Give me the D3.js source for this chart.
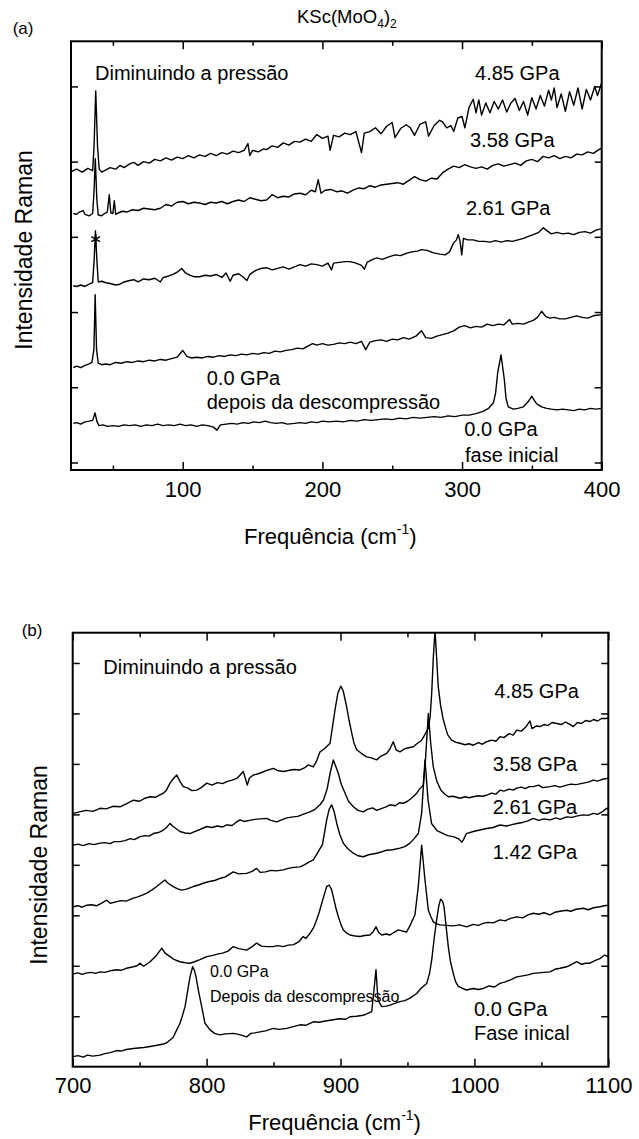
<!DOCTYPE html>
<html>
<head>
<meta charset="utf-8">
<script src="https://cdn.jsdelivr.net/npm/d3@7"></script>
<style>
  body { margin: 0; background: #fff; }
  svg { display: block; }
</style>
</head>
<body>
<svg id="chart" width="639" height="1139"></svg>
<script>

// ---- panel (a): low frequency region, [cm-1, intensity a.u.] ----
var a485 = [[20.5,3.87],[24,3.90],[28,3.86],[32,3.91],[35.5,3.88],[36.5,4.20],[37.7,4.94],[39,4.20],[40.2,3.90],[42,3.86],[45,3.89],[48,3.92],[52,3.90],[55,3.95],[58,3.92],[62,3.97],[65,3.99],[68,3.95],[72,4.00],[76,3.98],[80,4.03],[84,4.01],[88,4.05],[92,4.02],[96,4.06],[100,4.04],[104,4.08],[108,4.05],[112,4.09],[116,4.07],[120,4.11],[124,4.08],[128,4.12],[132,4.10],[136,4.14],[140,4.12],[144,4.15],[146.7,4.24],[148,4.08],[150,4.15],[154,4.13],[158,4.17],[160,4.16],[164,4.21],[168,4.19],[172,4.25],[176,4.22],[180,4.27],[184,4.26],[188,4.30],[192,4.27],[196,4.36],[200,4.31],[204,4.34],[205.5,4.15],[208,4.35],[212,4.33],[216,4.38],[220,4.36],[224,4.40],[228,4.12],[230,4.38],[234,4.40],[238,4.45],[242,4.37],[246,4.47],[250,4.52],[252,4.32],[256,4.44],[260,4.49],[263,4.45],[266,4.35],[270,4.50],[274,4.53],[276,4.34],[280,4.48],[284,4.55],[286,4.53],[289,4.45],[292,4.48],[294,4.40],[297,4.58],[300,4.60],[302,4.45],[305,4.72],[308,4.83],[310,4.65],[312,4.82],[314,4.62],[317,4.78],[320,4.65],[323,4.80],[326,4.70],[329,4.82],[332,4.66],[335,4.78],[338,4.84],[341,4.68],[344,4.80],[347,4.62],[350,4.85],[353,4.70],[356,4.88],[359,4.74],[362,4.95],[364,4.82],[366,4.98],[368,4.72],[371,4.90],[374,4.67],[377,4.93],[380,4.75],[383,4.98],[386,4.70],[389,4.96],[392,4.82],[395,5.00],[397,4.88],[400,5.05]];

var a358 = [[21.6,3.31],[24,3.30],[26,3.33],[28.6,3.35],[30,3.30],[33,3.28],[35.5,3.31],[36.5,3.60],[37.4,4.04],[38.5,3.50],[39.5,3.29],[42,3.28],[44,3.31],[46,3.33],[47.4,3.56],[48.5,3.32],[50,3.31],[51,3.48],[52,3.30],[54,3.32],[57,3.34],[60,3.33],[64,3.36],[68,3.35],[72,3.38],[76,3.37],[80,3.36],[84,3.38],[88,3.43],[92,3.41],[96,3.46],[100,3.47],[104,3.44],[108,3.46],[112,3.45],[116,3.43],[120,3.46],[124,3.45],[128,3.47],[132,3.44],[136,3.47],[140,3.49],[144,3.47],[148,3.52],[152,3.50],[156,3.48],[160,3.49],[164,3.56],[168,3.52],[172,3.54],[176,3.53],[180,3.57],[184,3.58],[188,3.56],[192,3.62],[195,3.60],[197,3.76],[199,3.58],[202,3.62],[206,3.63],[210,3.60],[214,3.61],[218,3.58],[222,3.62],[226,3.65],[230,3.64],[234,3.68],[238,3.66],[242,3.69],[246,3.70],[250,3.71],[254,3.72],[258,3.70],[262,3.75],[266,3.80],[270,3.76],[274,3.74],[278,3.78],[282,3.77],[286,3.85],[290,3.90],[294,3.94],[298,3.92],[302,3.96],[306,3.93],[310,3.91],[314,3.93],[318,3.90],[322,3.95],[326,3.97],[330,3.94],[334,3.96],[338,3.98],[342,3.95],[346,4.01],[350,4.03],[354,4.00],[358,4.07],[362,4.05],[366,4.08],[370,4.04],[374,4.07],[378,4.05],[382,4.10],[386,4.09],[390,4.13],[394,4.11],[398,4.16],[400,4.18]];

var a261 = [[21.6,2.35],[24,2.34],[27,2.36],[30,2.34],[33,2.37],[35.5,2.39],[36.6,2.70],[37.5,3.08],[38.5,2.70],[39.5,2.40],[42,2.41],[45,2.39],[48,2.38],[52,2.36],[55,2.37],[58,2.40],[62,2.42],[65,2.43],[68,2.40],[72,2.44],[76,2.43],[80,2.45],[84,2.40],[86,2.46],[90,2.48],[93,2.50],[96,2.53],[99.3,2.58],[102,2.52],[105,2.49],[108,2.47],[112,2.47],[116,2.49],[120,2.48],[124,2.50],[128,2.46],[131,2.52],[134,2.41],[136,2.49],[140,2.51],[143,2.47],[146,2.42],[148,2.50],[152,2.55],[156,2.58],[160,2.59],[164,2.56],[168,2.58],[172,2.60],[176,2.57],[180,2.60],[184,2.63],[188,2.61],[192,2.64],[196,2.63],[200,2.61],[204,2.65],[206.5,2.56],[208,2.65],[212,2.66],[216,2.67],[220,2.67],[224,2.65],[228,2.62],[230,2.57],[232,2.66],[236,2.70],[239,2.72],[243,2.70],[247,2.73],[252,2.76],[256,2.75],[260,2.78],[264,2.80],[268,2.81],[271,2.83],[275,2.82],[279,2.79],[284,2.77],[288,2.76],[291,2.80],[294,2.92],[296,2.96],[297.3,3.03],[298.5,2.95],[299.8,2.76],[301,2.98],[304,2.96],[308,2.96],[312,2.94],[316,2.94],[320,2.93],[324,2.95],[328,2.93],[332,2.95],[336,2.94],[340,2.96],[344,2.98],[348,3.01],[351,3.03],[355,3.06],[358.2,3.12],[361,3.08],[364,3.04],[368,3.06],[372,3.04],[376,3.05],[380,3.03],[384,3.06],[388,3.07],[392,3.05],[396,3.09],[400,3.11]];

var a000d = [[21.6,1.26],[24,1.28],[27,1.26],[30,1.29],[33,1.31],[35,1.33],[36.4,1.50],[37.3,2.23],[38.3,1.50],[39.5,1.32],[42,1.30],[45,1.31],[48,1.30],[52,1.33],[56,1.32],[60,1.34],[64,1.33],[68,1.35],[72,1.34],[76,1.36],[80,1.35],[84,1.37],[88,1.36],[92,1.38],[96,1.40],[100,1.49],[103,1.41],[106,1.39],[110,1.40],[114,1.39],[118,1.41],[122,1.40],[126,1.42],[130,1.41],[134,1.43],[138,1.42],[142,1.44],[146,1.43],[150,1.45],[154,1.44],[158,1.46],[162,1.45],[166,1.48],[170,1.47],[174,1.49],[178,1.50],[182,1.52],[186,1.51],[190,1.55],[193,1.58],[196,1.56],[200,1.58],[204,1.56],[208,1.57],[212,1.59],[216,1.58],[220,1.60],[224,1.58],[228,1.61],[231,1.50],[234,1.60],[238,1.62],[242,1.63],[246,1.61],[250,1.64],[254,1.63],[258,1.66],[262,1.64],[267,1.68],[271,1.75],[274,1.66],[278,1.65],[282,1.68],[286,1.70],[290,1.72],[294,1.75],[298,1.80],[302,1.82],[306,1.79],[310,1.81],[314,1.80],[318,1.84],[322,1.82],[326,1.84],[330,1.83],[334,1.90],[336,1.84],[340,1.85],[344,1.84],[348,1.87],[351,1.89],[354,1.93],[357,2.01],[360,1.94],[363,1.92],[366,1.93],[370,1.91],[374,1.91],[378,1.93],[382,1.95],[386,1.93],[390,1.92],[394,1.95],[398,1.96],[400,1.97]];

var a000i = [[21.6,0.52],[24,0.53],[27,0.51],[30,0.54],[33,0.55],[35.5,0.56],[37.2,0.66],[38.5,0.55],[40,0.49],[43,0.50],[46,0.48],[50,0.49],[54,0.48],[58,0.50],[62,0.49],[66,0.50],[70,0.48],[74,0.50],[78,0.49],[82,0.51],[86,0.49],[90,0.50],[94,0.49],[98,0.51],[102,0.49],[106,0.50],[110,0.48],[114,0.50],[118,0.49],[122,0.47],[124.5,0.43],[127,0.50],[131,0.51],[135,0.52],[139,0.51],[143,0.53],[147,0.52],[151,0.54],[155,0.53],[159,0.55],[163,0.53],[167,0.52],[171,0.53],[175,0.51],[180,0.52],[184,0.53],[188,0.52],[192,0.54],[196,0.53],[200,0.55],[205,0.54],[210,0.55],[215,0.54],[220,0.56],[225,0.55],[230,0.57],[235,0.56],[240,0.57],[245,0.58],[250,0.57],[255,0.59],[260,0.58],[265,0.60],[270,0.59],[275,0.60],[280,0.61],[285,0.60],[290,0.62],[295,0.61],[300,0.63],[305,0.63],[310,0.65],[315,0.68],[319,0.72],[322.4,0.79],[324,0.92],[325.5,1.19],[327.9,1.43],[330.3,1.10],[331.5,0.85],[333.1,0.74],[336.7,0.71],[340,0.72],[343.9,0.74],[347,0.80],[349.9,0.88],[352,0.82],[353.5,0.78],[357,0.74],[360.6,0.72],[364,0.71],[368,0.70],[372,0.71],[376,0.70],[380,0.69],[384,0.71],[388,0.70],[392,0.72],[396,0.71],[400,0.72]];

// ---- panel (b): high frequency region ----
var b485 = [[700.4,5.02],[705,5.05],[710,5.08],[715,5.06],[720.4,5.12],[725,5.11],[730,5.16],[735.3,5.15],[740,5.21],[745.3,5.28],[750,5.26],[754,5.32],[757.8,5.35],[762,5.34],[767.7,5.42],[770,5.48],[772.7,5.62],[775,5.70],[777.7,5.78],[780,5.66],[782.6,5.55],[786,5.52],[789,5.47],[792.6,5.48],[796,5.53],[800.1,5.62],[804,5.58],[808,5.63],[812,5.61],[815,5.65],[819,5.68],[823,5.72],[827.4,5.85],[830.4,5.58],[832,5.72],[834.9,5.78],[838,5.80],[842,5.84],[846,5.88],[849.8,5.91],[853,5.87],[857.3,5.85],[861,5.87],[865,5.89],[869.8,5.88],[873,5.92],[876,5.98],[879.7,5.94],[882,6.05],[884.7,6.24],[888,6.30],[892.2,6.41],[895.9,7.07],[898,7.40],[900.2,7.54],[902,7.45],[904.6,7.13],[906.5,6.85],[908.4,6.61],[910,6.42],[912.1,6.28],[916,6.20],[919.6,6.14],[923,6.12],[927,6.08],[930,6.15],[934.5,6.21],[937,6.30],[939.4,6.44],[941.5,6.28],[944.4,6.24],[948,6.30],[951,6.32],[954.4,6.34],[957,6.40],[960.6,6.47],[963,6.58],[965.6,6.71],[967,6.95],[968.1,7.40],[969.3,8.10],[970.6,8.65],[971.8,8.10],[973,7.53],[974.8,7.15],[976.8,6.87],[980,6.58],[983,6.47],[986,6.43],[989.3,6.41],[993,6.38],[996,6.40],[999.2,6.37],[1003,6.42],[1006,6.39],[1009.2,6.44],[1013,6.47],[1016,6.45],[1019.1,6.54],[1022,6.52],[1026,6.60],[1029,6.57],[1031.6,6.67],[1035,6.65],[1038,6.72],[1041.5,6.85],[1043,6.70],[1046,6.75],[1049,6.74],[1052,6.78],[1055,6.76],[1058,6.82],[1061.5,6.80],[1065,6.78],[1068,6.83],[1071,6.79],[1073.9,6.74],[1077,6.82],[1080,6.80],[1083,6.86],[1086.3,6.84],[1089,6.88],[1092,6.85],[1095,6.90],[1098.8,6.90],[1100,6.92]];

var b358 = [[700.4,4.39],[704,4.41],[708,4.38],[712,4.42],[716,4.40],[720.4,4.43],[724,4.44],[728,4.42],[731,4.46],[735.3,4.46],[739,4.48],[743,4.52],[746,4.50],[750.3,4.56],[754,4.58],[757,4.57],[760.2,4.62],[764,4.64],[767.7,4.69],[770,4.74],[772.7,4.82],[775,4.76],[778,4.70],[780.1,4.66],[784,4.63],[787.6,4.62],[791,4.66],[795,4.70],[800.1,4.76],[804,4.74],[808,4.77],[812,4.75],[815,4.79],[819,4.78],[822,4.84],[824.9,4.89],[828,4.86],[832,4.88],[836,4.90],[840,4.91],[844.9,4.92],[848,4.88],[852.4,4.85],[856,4.89],[860,4.93],[864.7,4.95],[868,4.96],[872,5.00],[877.2,5.05],[881,5.10],[884.7,5.19],[887.2,5.28],[890,5.50],[892.2,5.81],[894.6,6.08],[896.5,5.95],[898.4,5.81],[900.5,5.60],[903.4,5.42],[906,5.26],[909.6,5.15],[913,5.08],[917,5.05],[920,5.10],[924,5.13],[927,5.08],[931,5.12],[934,5.15],[937,5.19],[941,5.17],[944,5.23],[946.9,5.22],[950,5.26],[953,5.32],[956.9,5.42],[959,5.50],[961.8,5.58],[963.5,6.10],[965.6,7.00],[967.4,6.40],[969.3,5.94],[972,5.65],[975,5.48],[978,5.40],[980.5,5.35],[984,5.36],[989.3,5.32],[993,5.35],[996,5.33],[999.2,5.35],[1003,5.37],[1006,5.36],[1009.2,5.38],[1013,5.42],[1016,5.40],[1019.1,5.48],[1022,5.46],[1026,5.50],[1029,5.48],[1031.6,5.52],[1035,5.54],[1038,5.51],[1041,5.55],[1044,5.55],[1048,5.58],[1051,5.53],[1056.5,5.55],[1060,5.57],[1064,5.54],[1068.9,5.58],[1072,5.60],[1076,5.59],[1081.3,5.62],[1085,5.64],[1088.8,5.68],[1092,5.66],[1095,5.69],[1098.8,5.71],[1100,5.72]];

var b261 = [[700.4,3.17],[704,3.19],[707,3.16],[710.5,3.20],[714,3.21],[718,3.19],[721,3.23],[725.4,3.30],[728,3.24],[732.9,3.27],[736,3.29],[740,3.28],[745.3,3.34],[748,3.36],[752,3.40],[755.3,3.44],[759,3.50],[762.7,3.57],[766,3.64],[768.9,3.70],[771,3.64],[775.1,3.57],[778,3.53],[781.4,3.50],[785,3.52],[790.1,3.57],[794,3.60],[798,3.64],[802,3.67],[806,3.69],[810,3.73],[814,3.76],[819.9,3.86],[824,3.82],[829.9,3.83],[834,3.87],[837.4,3.93],[840,3.85],[844,3.86],[848,3.89],[852,3.88],[857.3,3.90],[861,3.93],[865,3.95],[869.8,3.96],[873,4.00],[876,4.05],[879.7,4.10],[883.4,4.26],[886.5,4.40],[889.7,4.89],[891.5,5.10],[893.4,5.19],[895.3,5.05],[897.2,4.82],[899.5,4.60],[902.1,4.43],[905.5,4.32],[909.6,4.23],[913,4.18],[917,4.16],[921,4.20],[927,4.23],[931,4.26],[934.5,4.29],[939,4.30],[944.4,4.33],[948,4.36],[951.9,4.43],[955,4.52],[958.1,4.62],[960.6,5.02],[963.1,6.08],[965.4,5.28],[968,4.82],[972,4.68],[976.8,4.62],[980,4.58],[984.2,4.56],[988,4.52],[990.5,4.45],[991.7,4.49],[994,4.62],[999.2,4.66],[1004,4.69],[1009.2,4.72],[1014,4.74],[1019.1,4.79],[1024,4.77],[1031.6,4.82],[1036,4.84],[1040,4.87],[1044,4.92],[1048,4.88],[1052,4.91],[1056.5,4.89],[1061,4.93],[1064,4.90],[1068.9,4.95],[1073,4.94],[1077,4.97],[1081.3,4.99],[1085,4.98],[1088.8,5.02],[1092,5.00],[1096,5.06],[1098.8,5.12],[1100,5.10]];

var b142 = [[700.4,1.84],[704,1.86],[707,1.83],[710.5,1.86],[714,1.87],[717,1.85],[720.4,1.88],[724,1.87],[728,1.90],[732.9,1.92],[736,1.91],[740,1.95],[745.3,1.98],[748,2.00],[750.3,2.05],[753,1.99],[757.8,2.08],[762.7,2.21],[766.5,2.35],[769,2.25],[772.7,2.18],[776,2.12],[780.1,2.08],[784,2.06],[787.6,2.05],[791,2.08],[795,2.12],[800.1,2.18],[804,2.20],[808,2.23],[812,2.25],[816,2.29],[819.9,2.38],[824,2.34],[829.9,2.31],[834,2.38],[837.4,2.45],[841,2.39],[845,2.38],[849.8,2.38],[853,2.40],[857.3,2.38],[861,2.41],[865,2.42],[869,2.48],[872.2,2.58],[874,2.54],[877.2,2.64],[880,2.76],[882.2,2.91],[884,3.05],[886,3.24],[888,3.42],[889.7,3.57],[891.5,3.60],[893.2,3.52],[894.6,3.37],[896.5,3.15],[898.4,2.97],[900.3,2.82],[902.1,2.71],[905,2.64],[907.1,2.61],[911,2.59],[914.6,2.58],[918,2.60],[922,2.61],[924.5,2.68],[926.5,2.77],[928.5,2.66],[930.8,2.61],[934,2.63],[937,2.61],[940,2.66],[943.2,2.71],[946,2.69],[949.4,2.67],[952,2.80],[955.6,3.01],[958.1,3.57],[960.6,4.39],[963.1,3.70],[965.6,3.10],[967.5,2.97],[969.3,2.87],[972,2.83],[974.3,2.81],[979,2.80],[984.2,2.79],[989,2.81],[994.2,2.77],[999,2.82],[1003,2.80],[1006.6,2.84],[1010,2.86],[1014,2.85],[1019.1,2.91],[1023,2.89],[1027,2.94],[1031.6,2.97],[1036,2.95],[1040,3.01],[1044,3.04],[1048,3.02],[1052,3.05],[1056.5,3.01],[1060,3.06],[1064,3.08],[1068.9,3.10],[1072,3.08],[1076,3.12],[1081.3,3.14],[1085,3.11],[1089,3.15],[1093.7,3.17],[1097,3.19],[1100,3.20]];

var b000 = [[700.4,0.20],[704,0.22],[707.9,0.19],[711,0.23],[715,0.21],[720.4,0.23],[724,0.26],[728,0.28],[732.9,0.32],[736,0.31],[740,0.34],[745.3,0.36],[749,0.37],[753,0.38],[757.8,0.40],[762,0.42],[767.7,0.45],[770,0.47],[772.7,0.53],[775,0.58],[777.7,0.73],[780,0.85],[781.8,1.00],[783.9,1.19],[785.5,1.45],[787.6,1.78],[789.6,1.98],[791,1.90],[792.1,1.78],[794,1.50],[795.5,1.30],[798.8,0.86],[802.6,0.73],[806,0.66],[810,0.63],[814,0.65],[819.9,0.66],[824,0.64],[829.9,0.59],[833,0.66],[836,0.67],[839.9,0.69],[844,0.71],[849.8,0.76],[854,0.74],[859.8,0.76],[864,0.79],[869.8,0.83],[874,0.82],[879.7,0.89],[884,0.88],[889.7,0.91],[894.6,0.93],[899,0.95],[904,0.94],[907.1,0.99],[912,1.00],[917,1.02],[920,1.05],[923.3,1.09],[925,1.52],[926.5,1.92],[928,1.32],[930.8,1.19],[934,1.20],[937,1.22],[940,1.25],[944.4,1.29],[948,1.31],[951.9,1.36],[956.9,1.45],[960,1.55],[964.4,1.65],[966.5,1.85],[968.1,2.11],[970,2.55],[971.8,2.91],[973.5,3.20],[974.8,3.32],[976.2,3.28],[977.3,3.17],[979,2.75],[980.5,2.38],[982,2.10],[984.2,1.85],[986,1.68],[988,1.59],[992,1.54],[994.2,1.52],[999.2,1.55],[1003,1.53],[1006.6,1.55],[1011,1.60],[1015,1.58],[1019.1,1.65],[1023,1.68],[1027,1.72],[1031.6,1.78],[1036,1.80],[1040,1.82],[1044,1.85],[1048,1.86],[1052,1.87],[1056.5,1.88],[1060,1.93],[1064,1.95],[1068.9,1.98],[1072,2.02],[1076.4,2.08],[1080,2.03],[1083,2.05],[1086.3,2.05],[1090,2.10],[1093.7,2.14],[1097,2.21],[1100,2.18]];

// tick values
var xTicksA = [100, 200, 300, 400];
var xMinorA = [50, 150, 250, 350];
var yTicksA = [0, 1, 2, 3, 4, 5];
var xTicksB = [700, 800, 900, 1000, 1100];
var xMinorB = [750, 850, 950, 1050];
var yTicksB = [1, 2, 3, 4, 5, 6, 7, 8];

// labels, placed in data units: [text, x, y, small]
var notesA = [
    ["Diminuindo a pressão", 37.2, 5.08, false],
    ["4.85 GPa", 309.3, 5.08, false],
    ["3.58 GPa", 305.7, 4.20, false],
    ["2.61 GPa", 302.8, 3.29, false],
    ["0.0 GPa", 117.2, 1.03, false],
    ["depois da descompressão", 117.2, 0.71, false],
    ["0.0 GPa", 301.6, 0.35, false],
    ["fase inicial", 302.1, 0.01, false]
];
var notesB = [
    ["Diminuindo a pressão", 722.9, 7.79, false],
    ["4.85 GPa", 1014.9, 7.30, false],
    ["3.58 GPa", 1013.7, 5.86, false],
    ["2.61 GPa", 1013.7, 5.01, false],
    ["1.42 GPa", 1013.7, 4.11, false],
    ["0.0 GPa", 802.5, 1.78, true],
    ["Depois da descompressão", 802.5, 1.29, true],
    ["0.0 GPa", 999.7, 1.00, false],
    ["Fase inical", 999.7, 0.52, false]
];
// marked peak (asterisk) in panel (a)
var starA = [37.7, 2.97];

var font = "'Liberation Sans', Arial, Helvetica, sans-serif";
var svg = d3.select("#chart");

function drawPanel(p) {
    var x = d3.scaleLinear().domain(p.xDomain).range([p.left, p.right]);
    var y = d3.scaleLinear().domain(p.yDomain).range([p.bottom, p.top]);
    var g = svg.append("g");

    g.append("clipPath").attr("id", p.id + "clip")
        .append("rect")
        .attr("x", p.left).attr("y", p.top)
        .attr("width", p.right - p.left).attr("height", p.bottom - p.top);

    var line = d3.line()
        .x(function(d) { return x(d[0]); })
        .y(function(d) { return y(d[1]); });

    g.append("g").attr("clip-path", "url(#" + p.id + "clip)")
        .selectAll("path")
        .data(p.traces)
        .enter().append("path")
        .attr("d", line)
        .attr("fill", "none")
        .attr("stroke", "#000")
        .attr("stroke-width", 1.4)
        .attr("stroke-linejoin", "round");

    // ticks all point inwards
    function styleAxis(sel) {
        sel.select(".domain").remove();
        sel.selectAll("line").attr("stroke-width", 1.5);
        sel.attr("font-size", 22).attr("font-family", font);
        sel.selectAll("text").attr("fill", "#000");
    }
    var noLabel = function() { return ""; };

    g.append("g").attr("transform", "translate(0," + p.bottom + ")")
        .call(d3.axisBottom(x).tickValues(p.xTicks).tickSize(-8).tickPadding(11).tickFormat(d3.format("d")))
        .call(styleAxis);
    g.append("g").attr("transform", "translate(0," + p.bottom + ")")
        .call(d3.axisBottom(x).tickValues(p.xMinor).tickSize(-4.5).tickFormat(noLabel))
        .call(styleAxis);
    g.append("g").attr("transform", "translate(0," + p.top + ")")
        .call(d3.axisTop(x).tickValues(p.xTicks).tickSize(-8).tickFormat(noLabel))
        .call(styleAxis);
    g.append("g").attr("transform", "translate(0," + p.top + ")")
        .call(d3.axisTop(x).tickValues(p.xMinor).tickSize(-4.5).tickFormat(noLabel))
        .call(styleAxis);
    g.append("g").attr("transform", "translate(" + p.left + ",0)")
        .call(d3.axisLeft(y).tickValues(p.yTicks).tickSize(-7).tickFormat(noLabel))
        .call(styleAxis);
    g.append("g").attr("transform", "translate(" + p.right + ",0)")
        .call(d3.axisRight(y).tickValues(p.yTicks).tickSize(-7).tickFormat(noLabel))
        .call(styleAxis);

    // frame
    g.append("rect")
        .attr("x", p.left).attr("y", p.top)
        .attr("width", p.right - p.left).attr("height", p.bottom - p.top)
        .attr("fill", "none").attr("stroke", "#000").attr("stroke-width", 2);

    // annotations
    g.selectAll("text.note")
        .data(p.notes)
        .enter().append("text")
        .attr("class", "note")
        .attr("x", function(d) { return x(d[1]); })
        .attr("y", function(d) { return y(d[2]); })
        .attr("font-family", font)
        .attr("font-size", function(d) { return d[3] ? 16 : 20; })
        .text(function(d) { return d[0]; });

    // x title with superscript
    var xt = g.append("text")
        .attr("x", p.xTitle[0]).attr("y", p.xTitle[1])
        .attr("font-family", font).attr("font-size", 22);
    xt.append("tspan").text("Frequência (cm");
    xt.append("tspan").attr("font-size", 14).attr("dy", -10).text("-1");
    xt.append("tspan").attr("dy", 10).text(")");

    // y title
    g.append("text")
        .attr("transform", "translate(" + p.yTitle[0] + "," + p.yTitle[1] + ") rotate(-90)")
        .attr("text-anchor", "middle")
        .attr("font-family", font).attr("font-size", 23)
        .text("Intensidade Raman");

    g.append("text")
        .attr("x", p.tag[0]).attr("y", p.tag[1])
        .attr("font-family", font).attr("font-size", 17)
        .text(p.tagText);

    return {x: x, y: y, g: g};
}

var pa = drawPanel({
    id: "a", xDomain: [20, 400], yDomain: [-0.1, 5.6],
    left: 71, right: 601.7, top: 41.3, bottom: 470,
    traces: [a485, a358, a261, a000d, a000i],
    xTicks: xTicksA, xMinor: xMinorA, yTicks: yTicksA,
    notes: notesA, xTitle: [244, 544], yTitle: [32.3, 250],
    tag: [12.7, 33.7], tagText: "(a)"
});

drawPanel({
    id: "b", xDomain: [700, 1100], yDomain: [0, 8.6],
    left: 72.7, right: 608.3, top: 632.7, bottom: 1066.7,
    traces: [b485, b358, b261, b142, b000],
    xTicks: xTicksB, xMinor: xMinorB, yTicks: yTicksB,
    notes: notesB, xTitle: [248.3, 1130], yTitle: [46.7, 865],
    tag: [21.7, 636.4], tagText: "(b)"
});

// asterisk marking the peak
pa.g.append("path")
    .attr("transform", "translate(" + pa.x(starA[0]) + "," + pa.y(starA[1]) + ")")
    .attr("d", d3.symbol().type(d3.symbolAsterisk).size(70)())
    .attr("fill", "none").attr("stroke", "#000").attr("stroke-width", 1.6);

// compound title
var title = svg.append("text")
    .attr("x", 297).attr("y", 22.7)
    .attr("font-family", font).attr("font-size", 18.5);
title.append("tspan").text("KSc(MoO");
title.append("tspan").attr("font-size", 12).attr("dy", 5).text("4");
title.append("tspan").attr("dy", -5).text(")");
title.append("tspan").attr("font-size", 12).attr("dy", 5).text("2");

</script>
</body>
</html>
